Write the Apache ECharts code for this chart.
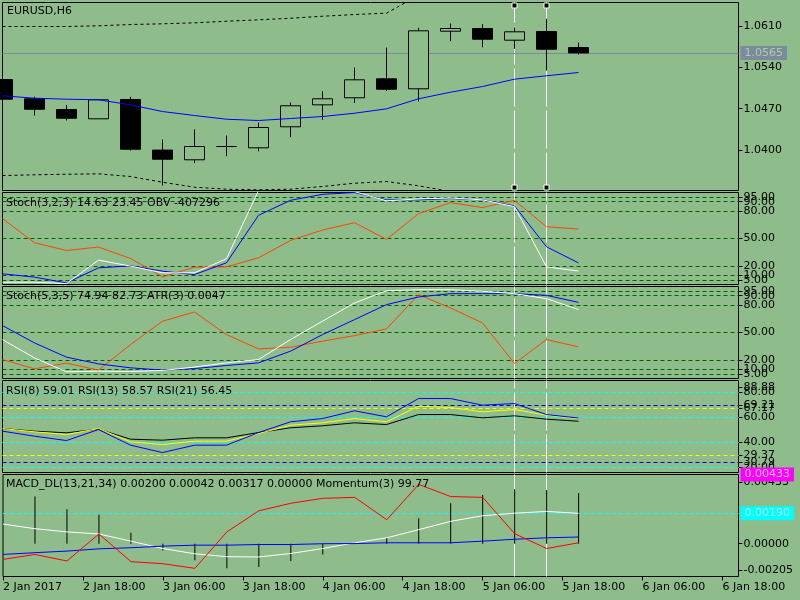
<!DOCTYPE html>
<html><head><meta charset="utf-8">
<script src="https://cdn.jsdelivr.net/npm/echarts@6/dist/echarts.min.js"></script>
<style>html,body{margin:0;padding:0;background:#8fbc8b;}#c{width:800px;height:600px;}</style>
</head><body><div id="c"></div>
<script>
// ---------- data ----------
const timeLabels = ['2 Jan 2017','2 Jan 18:00','3 Jan 06:00','3 Jan 18:00','4 Jan 06:00','4 Jan 18:00','5 Jan 06:00','5 Jan 18:00','6 Jan 06:00','6 Jan 18:00'];
const visibleBars = 23;
const labelStep = 2.5;
const markedBars = [16, 17];

const candleOpen  = [1.05197,1.04869,1.04686,1.04528,1.04857,1.03995,1.03830,1.04056,1.04034,1.04392,1.04766,1.04886,1.05209,1.05039,1.06020,1.06066,1.05867,1.06015,1.05742];
const candleClose = [1.04862,1.04691,1.04538,1.04852,1.04010,1.03840,1.04056,1.04056,1.04380,1.04750,1.04869,1.05192,1.05032,1.06027,1.06066,1.05884,1.06010,1.05713,1.05650];
const candleHigh  = [1.05200,1.04903,1.04766,1.04852,1.04903,1.04176,1.04346,1.04244,1.04465,1.04806,1.04998,1.05402,1.05742,1.06078,1.06151,1.06139,1.06083,1.06231,1.05827];
const candleLow   = [1.04860,1.04584,1.04499,1.04528,1.03988,1.03392,1.03772,1.03891,1.03976,1.04215,1.04511,1.04800,1.05000,1.04823,1.05850,1.05747,1.05720,1.05351,1.05623];
const maLine      = [1.04920,1.04879,1.04862,1.04852,1.04766,1.04652,1.04584,1.04521,1.04499,1.04533,1.04567,1.04623,1.04698,1.04869,1.04981,1.05078,1.05203,1.05261,1.05317];
const upperBand   = [1.06100,1.06100,1.06100,1.06112,1.06134,1.06146,1.06163,1.06190,1.06214,1.06241,1.06275,1.06304,1.06327,1.06630,1.06720,1.06780,1.06830,1.06870,1.06900];
const lowerBand   = [1.03562,1.03574,1.03584,1.03591,1.03545,1.03448,1.03363,1.03329,1.03319,1.03329,1.03375,1.03431,1.03460,1.03387,1.03290,1.03250,1.03220,1.03200,1.03180];
const currentPrice = 1.0565;
const priceTicks = [1.0610, 1.0540, 1.0470, 1.0400];

const stoch1Main   = [2.5,2.5,1,26.5,20,12.7,12.7,28,102,110,108,101,91,93,94,92,84.6,19.2,14.63];
const stoch1Signal = [11.6,8,1.7,18.1,20.3,14.5,10.8,23.6,75.2,91.5,98,100,92,92,93.4,92,85.4,41,23.45];
const obvScaled    = [71.6,45.4,37,40.7,28.3,8.3,18.9,19.2,29,47.9,59.2,67.2,49,77,89,83.6,91.5,62.8,60.3];

const stoch2Main   = [42.3,22.4,7.3,8,7.6,8.7,12.4,17,20.6,42.3,62.3,82.1,95.4,96.5,96.5,94.8,92.2,86.8,74.94];
const stoch2Signal = [57.5,38.7,23.2,15.9,11.6,9.1,10.8,14.1,17,29.7,47.7,64,80.3,88.6,92.2,92.2,92.2,90.4,82.73];
const atrScaled    = [20.6,10.5,16.7,9.1,36.9,62.3,72.3,47.7,32.2,34,40.6,46.6,53.9,91.1,76.7,60.4,16.3,42.3,34.4];
const stochLevels  = [95, 90, 80, 50, 20, 10, 5];

const rsi8  = [48.5,44.5,41,49.8,37.3,31.4,37.3,37.3,47.4,56,58.6,64.8,60,74.6,74.6,69.3,70.6,61.8,59.01];
const rsi13 = [50.6,48,45.8,50.6,40,37.8,40.5,40.5,46.6,53.3,55.2,58.6,56,68.5,67.4,64,65.8,61.3,58.57];
const rsi21 = [50.6,48.5,47.2,50.1,42.1,41.3,43.2,43.2,47.4,51.2,52.8,55.2,53.8,61.8,61.8,59.2,60.8,58.1,56.45];
const rsiCyanLevels   = [80, 60, 40, 20];
const rsiBlueLevels   = [69.21, 24];
const rsiYellowLevels = [67.17, 29.37];
const rsiTickVals  = [83.5, 80, 69.21, 67.17, 60, 40, 29.37, 24, 20];
const rsiTickTexts = ['88.88','80.00','69.21','67.17','60.00','40.00','29.37','30.79','20.00'];

const macdHist   = [0,0.00295,0.00216,0.00181,0.00068,-0.00042,-0.00104,-0.00154,-0.00145,-0.00108,-0.00067,0.0001,0.00037,0.0016,0.00253,0.00305,0.0034,0.00336,0.00317];
const macdWhite  = [0.00123,0.00094,0.00074,0.00061,0.00016,-0.0003,-0.00063,-0.00081,-0.00083,-0.00061,-0.0003,0.00006,0.00037,0.00088,0.0014,0.00175,0.00191,0.00202,0.0019];
const macdBlue   = [-0.00067,-0.00056,-0.00046,-0.00032,-0.00025,-0.00015,-0.00009,-0.00009,-0.00005,-0.00005,0,0.00001,0.00006,0.00006,0.00006,0.00016,0.00028,0.00037,0.00042];
const momentumScaled = [-0.00098,-0.00067,-0.00108,0.00061,-0.00112,-0.00125,-0.00154,0.00074,0.00206,0.00253,0.00284,0.0029,0.0015,0.00371,0.00295,0.0029,0.00063,-0.0003,0.00006];
const macdMax = 0.00433, macdMin = -0.00205;
const macdLevel = 0.0019;
const macdTickVals  = [0.00383, 0, -0.00167];
const macdTickTexts = ['0.00433','0.00000','-0.00205'];

// ---------- styling ----------
const BG = '#8fbc8b';
const FONT = 'DejaVu Sans';
const mainMin = 1.03307, mainMax = 1.06509;
const idx = arr => arr.map((v, i) => [i, v]);

const gridDefs = [[2.5,188],[192.5,92],[286.5,92],[380.5,92],[474.5,102]];
const grids = gridDefs.map(([t,h]) => ({left:2.5, right:61.5, top:t, height:h, show:true, borderColor:'#000', borderWidth:1, backgroundColor:'transparent'}));

const tickX = timeLabels.map((_, k) => k * labelStep);
function xAx(gi, showLabels) {
  return {type:'value', gridIndex:gi, min:0, max:visibleBars,
    axisLine:{show:false, onZero:false}, splitLine:{show:false},
    axisTick:{show:showLabels, length:4, customValues:tickX, lineStyle:{color:'#000', width:1}},
    axisLabel:{show:showLabels, customValues:tickX, hideOverlap:false, align:'left', margin:5, fontSize:11, fontFamily:FONT, color:'#000',
      formatter: v => timeLabels[Math.round(v / labelStep)]}};
}
// Each panel gets 3 stacked right axes sharing one scale; labels are spread round-robin
// over them so that ECharts' min/max overlap logic never drops a crowded label.
const AX_PER_PANEL = 3;
function yAxes(gi, min, max, vals, texts) {
  const out = [];
  for (let g = 0; g < AX_PER_PANEL; g++) {
    const sub = vals.filter((_, j) => j % AX_PER_PANEL === g);
    const subT = texts.filter((_, j) => j % AX_PER_PANEL === g);
    out.push({type:'value', gridIndex:gi, position:'right', offset:0, min, max,
      axisLine:{show:false, onZero:false}, splitLine:{show:false},
      axisTick:{show:true, length:4, customValues:sub, lineStyle:{color:'#000', width:1}},
      axisLabel:{show:true, customValues:sub, showMinLabel:true, showMaxLabel:true, hideOverlap:false, margin:5, fontSize:11, fontFamily:FONT, color:'#000',
        formatter: v => { let k = 0, d = Infinity; sub.forEach((x, j) => { const dd = Math.abs(x - v); if (dd < d) { d = dd; k = j; } }); return subT[k]; }}});
  }
  return out;
}

const vLines = markedBars.map(b => ({xAxis:b, lineStyle:{color:'#ffffff', width:1, type:[38,4]}}));
const levelItems = (levels, color) => levels.map(v => ({yAxis:v, lineStyle:{color, width:1, type:[4,3]}}));
const mk = data => ({silent:true, symbol:['none','none'], precision:6, z:1, animation:false, label:{show:false}, data});
const boxLabel = (text, bg, fg) => ({show:true, position:'end', distance:2, formatter:text, backgroundColor:bg, color:fg, padding:[1,4,0,4], fontSize:11, fontFamily:FONT, lineHeight:13, opacity:1});

const ln = (gi, data, color, extra) => Object.assign({type:'line', xAxisIndex:gi, yAxisIndex:gi*AX_PER_PANEL, data:idx(data), symbol:'none', showSymbol:false, clip:true, lineStyle:{color, width:1}, z:2, animation:false}, extra || {});

const pxMain = (mainMax - mainMin) / 188;
const handles = [];
markedBars.forEach(b => { handles.push({coord:[b, mainMax - 3*pxMain]}); handles.push({coord:[b, mainMin + 3*pxMain]}); });

const candles = candleOpen.map((o, i) => [i, o, candleClose[i], candleLow[i], candleHigh[i]]);

const option = {
  backgroundColor: BG,
  animation: false,
  textStyle: {fontFamily: FONT},
  title: [
    {text:'EURUSD,H6', left:7, top:5.5},
    {text:'Stoch(3,2,3) 14.63 23.45 OBV -407296', left:6, top:197.5},
    {text:'Stoch(5,3,5) 74.94 82.73 ATR(3) 0.0047', left:6, top:290.5},
    {text:'RSI(8) 59.01 RSI(13) 58.57 RSI(21) 56.45', left:6, top:385.5},
    {text:'MACD_DL(13,21,34) 0.00200 0.00042 0.00317 0.00000 Momentum(3) 99.77', left:6, top:479}
  ].map(t => Object.assign(t, {padding:0, textStyle:{fontSize:11, fontWeight:'normal', color:'#000', fontFamily:FONT}})),
  grid: grids,
  xAxis: [xAx(0,false), xAx(1,false), xAx(2,false), xAx(3,false), xAx(4,true)],
  yAxis: [
    ...yAxes(0, mainMin, mainMax, priceTicks, priceTicks.map(v => v.toFixed(4))),
    ...yAxes(1, 0, 100, stochLevels, stochLevels.map(v => v.toFixed(2))),
    ...yAxes(2, 0, 100, stochLevels, stochLevels.map(v => v.toFixed(2))),
    ...yAxes(3, 15.44, 89.04, rsiTickVals, rsiTickTexts),
    ...yAxes(4, macdMin, macdMax, macdTickVals, macdTickTexts)
  ],
  series: [
    // main panel
    ln(0, upperBand, '#000', {lineStyle:{color:'#000', width:1, type:[3,3]},
      markLine: mk([
        ...vLines,
        {yAxis:currentPrice, lineStyle:{color:'#7d8b9b', width:1, type:'solid'}, label:boxLabel(currentPrice.toFixed(4), '#7b8b9c', '#b0cca8')}
      ]),
      markPoint:{silent:true, z:6, symbol:'rect', symbolSize:5, label:{show:false}, itemStyle:{color:'#000', borderColor:'#fff', borderWidth:1}, data:handles}
    }),
    ln(0, lowerBand, '#000', {lineStyle:{color:'#000', width:1, type:[3,3]}}),
    {type:'candlestick', xAxisIndex:0, yAxisIndex:0, data:candles, encode:{x:0, y:[1,2,3,4]}, barWidth:21, clip:true, z:3,
      itemStyle:{color:BG, color0:'#000', borderColor:'#000', borderColor0:'#000', borderWidth:1}},
    ln(0, maLine, '#0000ff', {z:4}),
    // stoch 1
    ln(1, obvScaled, '#ff4500', {markLine: mk([...levelItems(stochLevels, '#006400'), ...vLines])}),
    ln(1, stoch1Signal, '#0000ff'),
    ln(1, stoch1Main, '#ffffff'),
    // stoch 2
    ln(2, atrScaled, '#ff4500', {markLine: mk([...levelItems(stochLevels, '#006400'), ...vLines])}),
    ln(2, stoch2Signal, '#0000ff'),
    ln(2, stoch2Main, '#ffffff'),
    // RSI
    ln(3, rsi21, '#000000', {markLine: mk([...levelItems(rsiCyanLevels, '#00ffff'), ...levelItems(rsiBlueLevels, '#0000cd'), ...levelItems(rsiYellowLevels, '#ffff00'), ...vLines])}),
    ln(3, rsi13, '#ffff00'),
    ln(3, rsi8, '#0000ff'),
    // MACD
    {type:'bar', xAxisIndex:4, yAxisIndex:4*AX_PER_PANEL, data:idx(macdHist), barWidth:1, itemStyle:{color:'#000'}, z:2, animation:false},
    ln(4, macdWhite, '#ffffff', {markLine: mk([
      ...vLines,
      {yAxis:macdLevel, lineStyle:{color:'#00ffff', width:1, type:[4,3]}, label:boxLabel(macdLevel.toFixed(5), '#00ffff', '#a8e8e8')},
      {yAxis:macdMax, lineStyle:{color:'rgba(0,0,0,0)', width:1}, label:boxLabel(macdMax.toFixed(5), '#ff00ff', '#ffc0ff')}
    ])}),
    ln(4, macdBlue, '#0000ff'),
    ln(4, momentumScaled, '#ff0000')
  ]
};
const chart = echarts.init(document.getElementById('c'), null, {renderer:'canvas'});
chart.setOption(option);
</script></body></html>
